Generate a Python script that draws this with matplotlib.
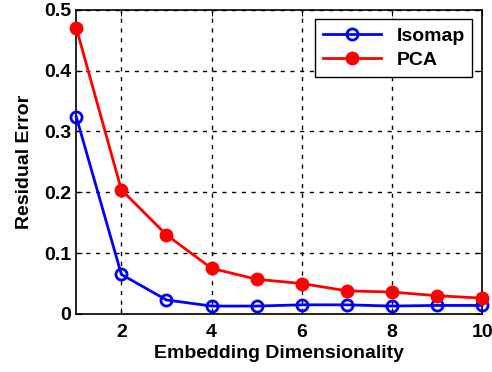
import numpy as np
import matplotlib.pyplot as plt

plt.rcParams['font.family'] = ['Liberation Sans', 'DejaVu Sans']
plt.rcParams['font.weight'] = 'bold'

dims = [1, 2, 3, 4, 5, 6, 7, 8, 9, 10]
isomap_err = [0.324, 0.065, 0.023, 0.013, 0.013, 0.015, 0.015, 0.013, 0.014, 0.014]
pca_err = [0.470, 0.204, 0.130, 0.075, 0.057, 0.050, 0.038, 0.036, 0.030, 0.026]

fig = plt.figure(figsize=(4.92, 3.72), dpi=100)
ax = fig.add_axes([0.155, 0.156, 0.825, 0.818])

ax.plot(dims, isomap_err, color='blue', lw=2, marker='o', ms=8,
        mfc='none', mec='blue', mew=2, label='Isomap', clip_on=False, zorder=3)
ax.plot(dims, pca_err, color='red', lw=2, marker='o', ms=9,
        mfc='red', mec='red', label='PCA', clip_on=False, zorder=3)

ax.set_xlim(1, 10)
ax.set_ylim(0, 0.5)
ax.set_xticks([2, 4, 6, 8, 10])
ax.set_yticks([0, 0.1, 0.2, 0.3, 0.4, 0.5])
ax.set_yticklabels(['0', '0.1', '0.2', '0.3', '0.4', '0.5'])
ax.tick_params(labelsize=14, length=4, direction='in', top=True, right=True)
ax.tick_params(axis='x', pad=7)
ax.grid(True, color='black', linestyle=(0, (3, 4)), linewidth=1)

ax.set_xlabel('Embedding Dimensionality', fontsize=14, fontweight='bold', labelpad=3)
ax.set_ylabel('Residual Error', fontsize=14, fontweight='bold', labelpad=8)

for s in ax.spines.values():
    s.set_linewidth(1.2)

leg = ax.legend(loc='upper right', fontsize=14, fancybox=False, framealpha=1,
                edgecolor='black', borderaxespad=0.5, handlelength=3,
                labelspacing=0.35)
leg.get_frame().set_linewidth(1)

fig.savefig('out.png', dpi=100)
